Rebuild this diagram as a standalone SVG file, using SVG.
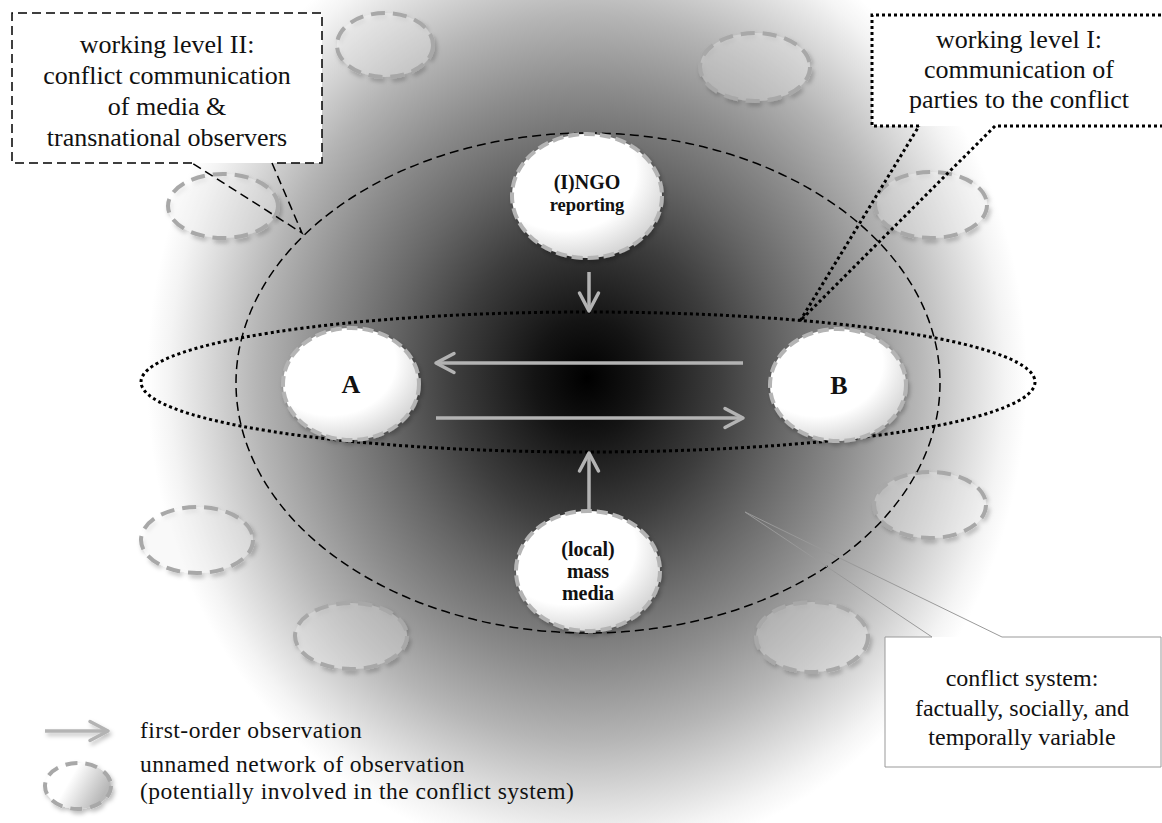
<svg xmlns="http://www.w3.org/2000/svg" width="1162" height="823" viewBox="0 0 1162 823">
<defs>
<radialGradient id="bg" gradientUnits="userSpaceOnUse" cx="587" cy="378" r="440" gradientTransform="translate(587,378) scale(1,1.1) translate(-587,-378)">
<stop offset="0" stop-color="#000"/>
<stop offset="0.12" stop-color="#141414"/>
<stop offset="0.3" stop-color="#3d3d3d"/>
<stop offset="0.45" stop-color="#666"/>
<stop offset="0.6" stop-color="#8c8c8c"/>
<stop offset="0.75" stop-color="#b5b5b5"/>
<stop offset="0.86" stop-color="#d8d8d8"/>
<stop offset="0.95" stop-color="#f4f4f4"/>
<stop offset="1" stop-color="#fff"/>
</radialGradient>
<radialGradient id="nodeFill" cx="0.35" cy="0.3" r="0.8">
<stop offset="0" stop-color="#fff"/>
<stop offset="0.6" stop-color="#fff"/>
<stop offset="1" stop-color="#cacaca"/>
</radialGradient>
<linearGradient id="legFill" x1="0" y1="0" x2="1" y2="0.4">
<stop offset="0" stop-color="#fff"/>
<stop offset="0.45" stop-color="#fff"/>
<stop offset="1" stop-color="#b8b8b8"/>
</linearGradient>
<filter id="sh" x="-20%" y="-20%" width="140%" height="150%">
<feDropShadow dx="2" dy="3" stdDeviation="2" flood-color="#000" flood-opacity="0.25"/>
</filter>
<filter id="shl" filterUnits="userSpaceOnUse" x="20" y="700" width="120" height="60">
<feDropShadow dx="2" dy="3" stdDeviation="2" flood-color="#000" flood-opacity="0.25"/>
</filter>
<marker id="chev" markerUnits="userSpaceOnUse" markerWidth="26" markerHeight="26" refX="19" refY="11" orient="auto" overflow="visible">
<path d="M1,1.5 L19,11 L1,20.5" fill="none" stroke="#b3b3b3" stroke-width="3.5" stroke-linecap="round" stroke-linejoin="round"/>
</marker>
<style>
.lvl2{fill:none;stroke:#000;stroke-width:1.5;stroke-dasharray:9 5}
.lvl1{fill:none;stroke:#000;stroke-width:3;stroke-dasharray:3 3}
.node{fill:url(#nodeFill);stroke:#b4b4b4;stroke-width:4;stroke-dasharray:11 5;filter:url(#sh)}
.obs{fill:#fff;fill-opacity:0.25;stroke:#a8a8a8;stroke-width:4;stroke-dasharray:14 8;filter:url(#sh)}
.arr{fill:none;stroke:#b3b3b3;stroke-width:3.5;marker-end:url(#chev)}
.nt{font-family:"Liberation Serif",serif;font-weight:bold;font-size:20px;text-anchor:middle;fill:#111}
.nts{font-family:"Liberation Serif",serif;font-weight:bold;font-size:18.5px;text-anchor:middle;fill:#111}
.big{font-family:"Liberation Serif",serif;font-weight:bold;font-size:26px;text-anchor:middle;fill:#111}
.ct{font-family:"Liberation Serif",serif;font-size:26px;text-anchor:middle;fill:#111}
.ct3{font-family:"Liberation Serif",serif;font-size:24px;text-anchor:middle;fill:#111}
.lg{font-family:"Liberation Serif",serif;font-size:23.5px;letter-spacing:0.5px;fill:#111}
</style>
</defs>
<rect x="0" y="0" width="1162" height="823" fill="#fff"/>
<rect x="0" y="0" width="1162" height="823" fill="url(#bg)"/>

<g id="observers">
<ellipse class="obs" cx="385" cy="45" rx="48" ry="32"/>
<ellipse class="obs" cx="223" cy="206" rx="55" ry="32"/>
<ellipse class="obs" cx="755" cy="67" rx="55" ry="34"/>
<ellipse class="obs" cx="931" cy="205" rx="56" ry="33"/>
<ellipse class="obs" cx="197" cy="540" rx="56" ry="33"/>
<ellipse class="obs" cx="351" cy="636" rx="56" ry="33"/>
<ellipse class="obs" cx="930" cy="505" rx="56" ry="33"/>
<ellipse class="obs" cx="812" cy="637" rx="56" ry="35"/>
</g>

<g id="level2-boundary">
<ellipse class="lvl2" cx="588" cy="383" rx="352" ry="250"/>
</g>
<g id="level1-boundary">
<ellipse class="lvl1" cx="588" cy="382" rx="447" ry="70"/>
</g>

<g id="connectors">
<line class="arr" x1="743" y1="363" x2="436" y2="363"/>
<line class="arr" x1="436" y1="418" x2="743" y2="418"/>
<line class="arr" x1="589" y1="272" x2="589" y2="311"/>
<line class="arr" x1="589" y1="512" x2="589" y2="453"/>
</g>

<g id="node-ingo">
<ellipse class="node" cx="587" cy="196" rx="75" ry="62"/>
<text class="nt" x="587" y="189">(I)NGO</text>
<text class="nts" x="587" y="211">reporting</text>
</g>
<g id="node-media">
<ellipse class="node" cx="588" cy="571" rx="72" ry="60"/>
<text class="nt" x="588" y="556">(local)</text>
<text class="nt" x="588" y="578">mass</text>
<text class="nt" x="588" y="600">media</text>
</g>
<g id="node-a">
<ellipse class="node" cx="351" cy="384" rx="68" ry="56"/>
<text class="big" x="351" y="393">A</text>
</g>
<g id="node-b">
<ellipse class="node" cx="838" cy="385" rx="68" ry="56"/>
<text class="big" x="839" y="394">B</text>
</g>

<g id="callout-level2">
<rect x="12" y="13" width="310" height="150" fill="#fff"/>
<path d="M192,163 H12 V13 H322 V163 H272 L302,233 Z" class="lvl2"/>
<text class="ct" x="167" y="53">working level II:</text>
<text class="ct" x="167" y="84">conflict communication</text>
<text class="ct" x="167" y="115">of media &amp;</text>
<text class="ct" x="167" y="146">transnational observers</text>
</g>

<g id="callout-level1">
<rect x="872" y="15" width="300" height="111" fill="#fff"/>
<path d="M919,126 H872 V15 H1175 M1175,126 H995 L800,321 L919,126" class="lvl1"/>
<text class="ct" x="1019" y="48">working level I:</text>
<text class="ct" x="1019" y="78">communication of</text>
<text class="ct" x="1019" y="108">parties to the conflict</text>
</g>

<g id="callout-system">
<rect x="885" y="637" width="276" height="130" fill="#fff"/>
<path d="M932,637 H885 V767 H1161 V637 H1002 L745,512 Z" fill="none" stroke="#999" stroke-width="1"/>
<text class="ct3" x="1022" y="686">conflict system:</text>
<text class="ct3" x="1022" y="716">factually, socially, and</text>
<text class="ct3" x="1022" y="745">temporally variable</text>
</g>

<g id="legend">
<line class="arr" x1="45" y1="731" x2="108" y2="731" filter="url(#shl)"/>
<text class="lg" x="140" y="738">first-order observation</text>
<ellipse cx="78" cy="786" rx="33" ry="23" fill="url(#legFill)" stroke="#a8a8a8" stroke-width="4" stroke-dasharray="12 8" filter="url(#sh)"/>
<text class="lg" x="140" y="772">unnamed network of observation</text>
<text class="lg" x="140" y="799">(potentially involved in the conflict system)</text>
</g>
</svg>
